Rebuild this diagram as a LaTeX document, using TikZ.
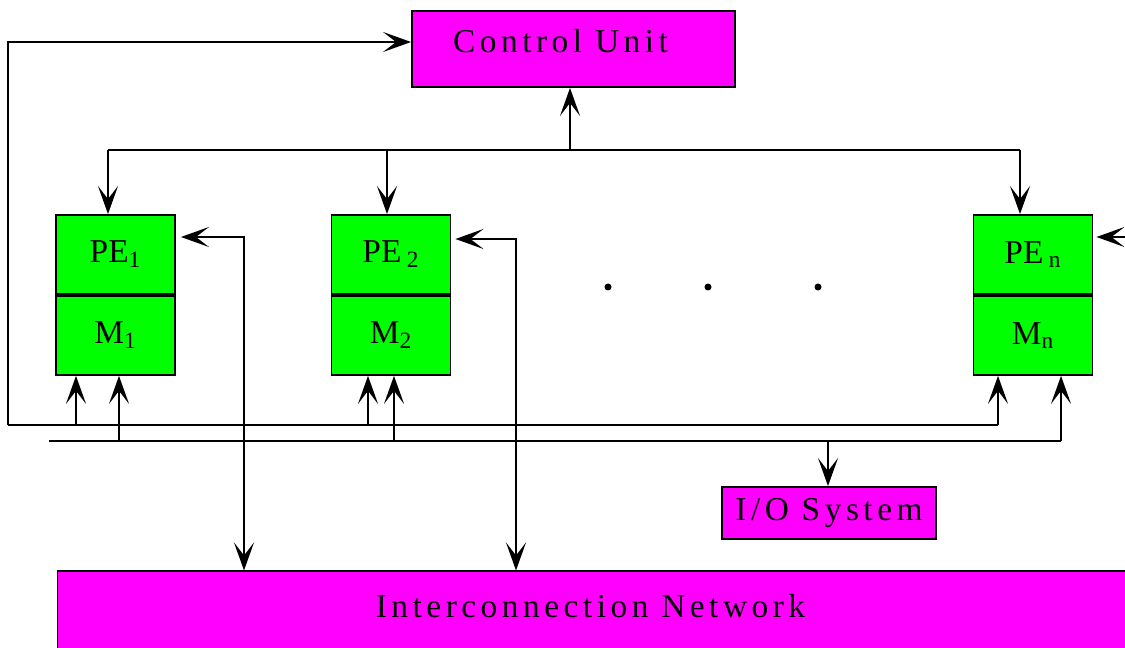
\documentclass[tikz,border=0pt]{standalone}
\usepackage{fontspec}
\setmainfont{Liberation Serif}
\newfontfamily\spacedfont[LetterSpace=13.5]{Liberation Serif}
\usetikzlibrary{arrows.meta,positioning}
\definecolor{unitpink}{HTML}{FF00FF}
\definecolor{pegreen}{HTML}{00FF00}

\begin{document}
\begin{tikzpicture}[
  x=0.02cm, y=-0.02cm,
  every node/.style={font=\fontsize{19}{22}\selectfont},
  unit/.style={rectangle, draw, line width=1.1pt, fill=unitpink,
               font=\spacedfont\fontsize{19}{22}\selectfont},
  pebox/.style={rectangle, draw, line width=1.1pt, fill=pegreen,
                minimum width=2.38cm, minimum height=1.58cm, inner sep=0pt},
  bus/.style={line width=1.1pt},
  arr/.style={-{Stealth[length=0.56cm,width=0.4cm,inset=0.26cm]}, line width=1.1pt},
  dblarr/.style={{Stealth[length=0.56cm,width=0.4cm,inset=0.26cm]}-{Stealth[length=0.56cm,width=0.4cm,inset=0.26cm]}, line width=1.1pt}
]
\useasboundingbox (0,0) rectangle (1125,648);

% ---- Control unit ----
\node[unit, minimum width=6.46cm, minimum height=1.52cm, text depth=0.32cm] (cu) at (573.5,49) {Control Unit\hspace*{0.52cm}};

% ---- Processing elements ----
\node[pebox] (pe1) at (115.5,254.5) {PE\textsubscript{1}};
\node[pebox, below=0pt of pe1] (m1) {M\textsubscript{1}};
\node[pebox] (pe2) at (391,254.5) {PE\,\textsubscript{2}};
\node[pebox, below=0pt of pe2] (m2) {M\textsubscript{2}};
\node[pebox] (pen) at (1033,254.5) {PE\,\textsubscript{n}};
\node[pebox, below=0pt of pen] (mn) {M\textsubscript{n}};

\foreach \dx in {608,708,818} \fill (\dx,287) circle (0.07cm);

% ---- I/O and network ----
\node[unit, minimum width=4.28cm, minimum height=1.04cm, inner sep=0pt] (io) at (829,513) {I/O System};
\node[unit, line width=0.6pt, minimum width=21.66cm, minimum height=1.78cm, text depth=0.4cm] (net) at (598.5,615.5) {Interconnection Network\hspace*{0.32cm}};

% ---- Control bus ----
\coordinate (cb0) at (570,150);
\coordinate (cb1) at (108,150);
\coordinate (cb2) at (387,150);
\coordinate (cbn) at (1020,150);
\draw[bus] (cb1) -- (cbn);
\draw[arr] (cb0) -- (cb0 |- cu.south);
\draw[arr] (cb1) -- (cb1 |- pe1.north);
\draw[arr] (cb2) -- (cb2 |- pe2.north);
\draw[arr] (cbn) -- (cbn |- pen.north);

% ---- Data buses ----
\coordinate (fb) at (8,425);
\coordinate (fbtop) at (8,42);
\coordinate (ba1) at (76,425);
\coordinate (ba2) at (368,425);
\coordinate (ban) at (998,425);
\coordinate (bb0) at (49,441);
\coordinate (bb1) at (119,441);
\coordinate (bb2) at (394,441);
\coordinate (bbio) at (828,441);
\coordinate (bbn) at (1061,441);
\draw[bus] (fb) -- (ban);
\draw[bus] (bb0) -- (bbn);
\draw[arr] (fb) -- (fbtop) -- (fbtop -| cu.west);
\draw[arr] (ba1) -- (ba1 |- m1.south);
\draw[arr] (bb1) -- (bb1 |- m1.south);
\draw[arr] (ba2) -- (ba2 |- m2.south);
\draw[arr] (bb2) -- (bb2 |- m2.south);
\draw[arr] (ban) -- (ban |- mn.south);
\draw[arr] (bbn) -- (bbn |- mn.south);
\draw[arr] (bbio) -- (bbio |- io.north);

% ---- Network links ----
\coordinate (nl1) at (244,237);
\coordinate (nl2) at (516,239);
\coordinate (pnin) at (1125,237);
\draw[dblarr, shorten <=0.1cm] (nl1 -| pe1.east) -- (nl1) -- (nl1 |- net.north);
\draw[dblarr, shorten <=0.08cm] (nl2 -| pe2.east) -- (nl2) -- (nl2 |- net.north);
\draw[arr, shorten >=0.06cm] (pnin) -- (pnin -| pen.east);

\end{tikzpicture}
\end{document}
